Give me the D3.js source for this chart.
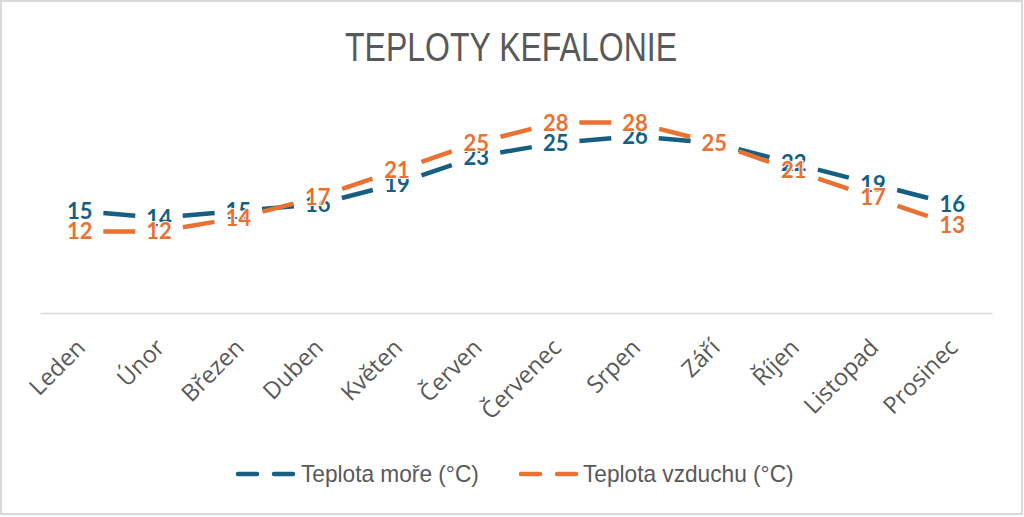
<!DOCTYPE html>
<html>
<head>
<meta charset="utf-8">
<script src="https://cdn.jsdelivr.net/npm/d3@7"></script>
<style>
  html, body { margin: 0; padding: 0; background: #fff; }
  svg { display: block; }
</style>
</head>
<body>
<svg id="chart" width="1024" height="517"></svg>
<script>
const months = ["Leden","Únor","Březen","Duben","Květen","Červen","Červenec","Srpen","Září","Říjen","Listopad","Prosinec"];
const seaTemp = [15,14,15,16,19,23,25,26,25,22,19,16];
const airTemp = [12,12,14,17,21,25,28,28,25,21,17,13];
const seriesNames = ["Teplota moře (°C)", "Teplota vzduchu (°C)"];
const seriesColors = ["#156082", "#E97132"];
const titleText = "TEPLOTY KEFALONIE";

const svg = d3.select("#chart");
const W = 1024, H = 517;

// border
svg.append("rect").attr("x",1).attr("y",1).attr("width",W-3).attr("height",H-4)
  .attr("fill","#fff").attr("stroke","#d9d9d9").attr("stroke-width",2);

// title (condensed look)
svg.append("text").attr("transform","translate(511,61) scale(0.8,1)")
  .attr("text-anchor","middle")
  .attr("font-family","'Liberation Sans', Arial, sans-serif")
  .attr("font-size",40).attr("fill","#595959").text(titleText);

const x = d3.scaleBand().domain(months).range([40, 992]);
const y = d3.scaleLinear().domain([0, 30]).range([313, 109]);
const cx = m => x(m) + x.bandwidth()/2;

// axis
const ax = svg.append("g").attr("transform", `translate(0,${y(0)})`)
  .call(d3.axisBottom(x).tickSize(0));
ax.select(".domain").attr("stroke","#d9d9d9").attr("stroke-width",1.5);
ax.selectAll("text")
  .attr("x",0).attr("y",0).attr("dy",null)
  .attr("transform","translate(7,36) rotate(-45)")
  .attr("text-anchor","end")
  .attr("font-family","'Open Sans', sans-serif")
  .attr("font-size",23.5).attr("fill","#595959");

const series = [
  {name: seriesNames[0], values: seaTemp, color: seriesColors[0]},
  {name: seriesNames[1], values: airTemp, color: seriesColors[1]}
];

const DASH = 32;
series.forEach(s => {
  const pts = months.map((m,i) => [cx(m), y(s.values[i])]);
  const segs = d3.pairs(pts);
  svg.append("g").selectAll("line").data(segs).join("line")
    .attr("x1", d => d[0][0]).attr("y1", d => d[0][1])
    .attr("x2", d => d[1][0]).attr("y2", d => d[1][1])
    .attr("stroke", s.color).attr("stroke-width", 4.5)
    .attr("stroke-dasharray", d => {
      const len = Math.hypot(d[1][0]-d[0][0], d[1][1]-d[0][1]);
      const g = (len - DASH)/2;
      return `0,${g},${DASH},${len}`;
    });
});

series.forEach(s => {
  svg.append("g").selectAll("text").data(months).join("text")
    .attr("x", m => cx(m)).attr("y", (m,i) => y(s.values[i]))
    .attr("dy","0.36em")
    .attr("text-anchor","middle")
    .attr("font-family","Lato, Roboto, sans-serif")
    .attr("font-weight",700).attr("font-size",22)
    .attr("fill", s.color)
    .attr("stroke","#fff").attr("stroke-width",2).attr("paint-order","stroke")
    .text((m,i) => s.values[i]);
});

// legend
const legendItems = [
  {x0: 238, x1: 295, tx: 301},
  {x0: 521, x1: 578, tx: 583}
];
const ly = 474;
series.forEach((s,i) => {
  const L = legendItems[i];
  const g = svg.append("g");
  g.append("line").attr("x1",L.x0).attr("x2",L.x1).attr("y1",ly).attr("y2",ly)
    .attr("stroke",s.color).attr("stroke-width",4.5).attr("stroke-linecap","round")
    .attr("stroke-dasharray","19,17");
  g.append("text").attr("transform",`translate(${L.tx},${ly}) scale(0.945,1)`)
    .attr("dy","0.35em")
    .attr("font-family","'Liberation Sans', Arial, sans-serif")
    .attr("font-size",24).attr("fill","#595959").text(s.name);
});
</script>
</body>
</html>
